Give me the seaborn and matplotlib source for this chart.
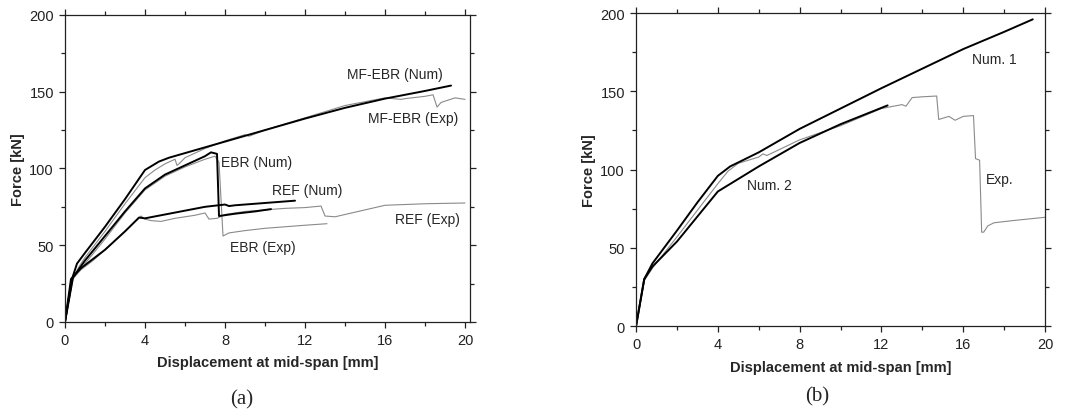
import numpy as np
import pandas as pd
import matplotlib
matplotlib.use("Agg")
import matplotlib.pyplot as plt
from matplotlib.ticker import MultipleLocator
import seaborn as sns

# %% data, panel (a)
mf_num_x = [0, 0.35, 0.6, 1.0, 2.0, 3.0, 4.0, 4.7, 5.2, 6.0, 8.0, 10.0, 12.0, 14.0, 16.0, 18.0, 19.3]
mf_num_y = [0, 28, 38, 45, 62, 80, 99, 104.5, 107, 110, 117.5, 125, 132.5, 139.5, 145.5, 150.5, 154]
mf_exp_x = [0, 0.35, 0.7, 1.0, 2.0, 3.0, 4.0, 4.5, 5.0, 5.5, 5.6, 5.7, 6.0, 7.0, 8.0, 9.0, 9.2,
            10.0, 12.0, 14.0, 16.0, 16.8, 17.0, 18.0, 18.4, 18.6, 18.8, 19.5, 20.0]
mf_exp_y = [0, 27, 36, 42, 59, 77, 94, 99, 103, 106, 102, 103, 107, 113, 118, 122, 121,
            125, 133, 141, 146, 145, 145.5, 147, 148, 140, 143, 146, 145]
ebr_num_x = [0, 0.4, 1.0, 2.0, 3.0, 4.0, 5.0, 6.0, 7.0, 7.3, 7.6, 7.7, 8.5, 9.5, 10.3]
ebr_num_y = [0, 29, 40, 56, 72, 87, 96, 102, 108, 110.5, 109.5, 69, 70.5, 72, 73.5]
ebr_exp_x = [0, 0.4, 1.0, 2.0, 3.0, 4.0, 5.0, 6.0, 7.0, 7.5, 7.7, 7.9, 8.2, 9.0, 10.0,
             11.0, 12.0, 13.1]
ebr_exp_y = [0, 28, 38, 54, 71, 86, 95, 101, 106, 108, 104, 56, 58, 59.5, 61, 62, 63, 64]
ref_num_x = [0, 0.3, 0.8, 1.4, 2.0, 3.0, 3.7, 4.0, 5.0, 6.0, 7.0, 8.0, 8.2, 8.5, 10.0, 11.5]
ref_num_y = [0, 28, 35, 41, 47, 59, 68, 67.5, 70, 72.5, 75, 76.5, 75.5, 76, 77.5, 79]
ref_exp_x = [0, 0.3, 0.8, 1.4, 2.0, 3.0, 3.8, 4.0, 4.3, 4.8, 5.5, 6.5, 7.0, 7.2, 7.6, 8.0,
             9.0, 10.0, 11.0, 12.0, 12.8, 13.0, 13.5, 14.0, 15.0, 16.0, 18.0, 20.0]
ref_exp_y = [0, 27, 34, 40, 47, 59, 69, 67, 66, 65.5, 67.5, 69.5, 71, 67, 67.5, 70,
             72, 73, 74, 74.5, 75.5, 69, 68.5, 70, 73, 76, 77, 77.5]

# %% data, panel (b)
num1_x = [0, 0.4, 0.8, 2.0, 3.0, 4.0, 4.6, 6.0, 8.0, 10.0, 12.0, 14.0, 16.0, 18.0, 19.4]
num1_y = [0, 30, 40, 61, 79, 96, 102, 111, 126, 139, 152, 164.5, 177, 188, 196]
num2_x = [0, 0.4, 0.8, 2.0, 3.0, 4.0, 5.0, 6.0, 8.0, 10.0, 12.3]
num2_y = [0, 30, 38, 54, 70, 86, 94, 102, 117, 129, 141]
exp_x = [0, 0.4, 0.8, 2.0, 3.0, 4.0, 4.5, 5.0, 6.0, 6.2, 6.4, 8.0, 10.0, 12.0, 13.0, 13.2,
         13.5, 14.0, 14.7, 14.8, 15.3, 15.6, 16.0, 16.5, 16.6, 16.8, 16.9, 17.0, 17.2,
         17.5, 18.5, 20.0]
exp_y = [0, 29, 37, 57, 74, 91, 99, 104, 108, 110, 109, 119, 128, 139, 141.5, 140.5,
         146, 146.5, 147, 132, 134, 131.5, 134, 134.5, 107, 106, 60, 60, 64,
         66, 67.5, 69.5]

BLACK = "#000000"
GRAY = "#8a8a8a"


def draw(ax, x, y, color, lw):
    df = pd.DataFrame({"x": x, "y": y})
    sns.lineplot(data=df, x="x", y="y", ax=ax, color=color, linewidth=lw,
                 sort=False, estimator=None)


def style_axis(ax):
    ax.set_xlim(0, 20)
    ax.set_ylim(0, 200)
    ax.xaxis.set_major_locator(MultipleLocator(4))
    ax.xaxis.set_minor_locator(MultipleLocator(2))
    ax.yaxis.set_major_locator(MultipleLocator(50))
    ax.yaxis.set_minor_locator(MultipleLocator(25))
    ax.tick_params(which="both", direction="out", top=True, right=True,
                   labelsize=10.5, width=0.9, colors="#222222", pad=4)
    ax.tick_params(which="major", length=4)
    ax.tick_params(which="minor", length=3)
    for s in ax.spines.values():
        s.set_visible(True)
        s.set_linewidth(0.9)
        s.set_color("#222222")
    ax.set_xlabel("Displacement at mid-span [mm]", fontsize=10.5, fontweight="bold",
                  labelpad=6)
    ax.set_ylabel("Force [kN]", fontsize=10.5, fontweight="bold", labelpad=3)


sns.set_style("ticks")
plt.rcParams["font.family"] = ["Liberation Sans", "DejaVu Sans"]

fig = plt.figure(figsize=(10.69, 4.14), dpi=100)
ax1 = fig.add_axes([0.0608, 0.22, 0.3789, 0.7414])
ax2 = fig.add_axes([0.595, 0.21, 0.3826, 0.756])

# panel (a)
draw(ax1, mf_exp_x, mf_exp_y, GRAY, 0.8)
draw(ax1, ebr_exp_x, ebr_exp_y, GRAY, 0.8)
draw(ax1, ref_exp_x, ref_exp_y, GRAY, 0.8)
draw(ax1, mf_num_x, mf_num_y, BLACK, 1.4)
draw(ax1, ebr_num_x, ebr_num_y, BLACK, 1.4)
draw(ax1, ref_num_x, ref_num_y, BLACK, 1.4)
style_axis(ax1)
ax1.set_xlim(0, 20.25)
ax1.set_xticks([0, 4, 8, 12, 16, 20])
for txt, xx, yy in [("MF-EBR (Num)", 16.5, 161.3), ("MF-EBR (Exp)", 17.4, 132.9),
                    ("EBR (Num)", 9.6, 104), ("REF (Num)", 12.1, 85.8),
                    ("REF (Exp)", 18.1, 67.3), ("EBR (Exp)", 9.9, 48.9)]:
    ax1.text(xx, yy, txt, fontsize=10, ha="center", va="center")

# panel (b)
draw(ax2, exp_x, exp_y, GRAY, 0.8)
draw(ax2, num1_x, num1_y, BLACK, 1.4)
draw(ax2, num2_x, num2_y, BLACK, 1.4)
style_axis(ax2)
for txt, xx, yy in [("Num. 1", 17.5, 170.6), ("Exp.", 17.8, 94.2), ("Num. 2", 6.5, 90)]:
    ax2.text(xx, yy, txt, fontsize=10, ha="center", va="center")

fig.text(242 / 1069, 1 - 400 / 414, "(a)", fontsize=15, family="Liberation Serif",
         ha="center", va="center")
fig.text(817 / 1069, 1 - 397 / 414, "(b)", fontsize=15, family="Liberation Serif",
         ha="center", va="center")

fig.savefig("out.png", dpi=100)
